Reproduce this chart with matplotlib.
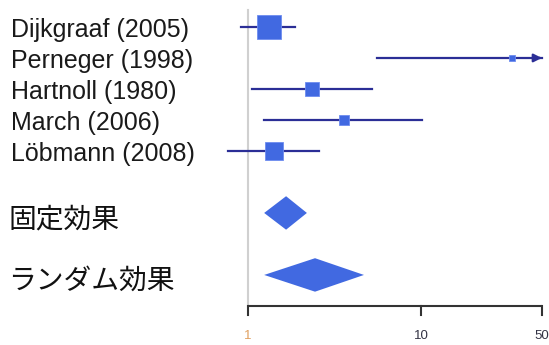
import matplotlib
matplotlib.use("Agg")
import matplotlib.pyplot as plt
import numpy as np

# 研究ごとの推定値と95%信頼区間
studies = ["Dijkgraaf (2005)", "Perneger (1998)", "Hartnoll (1980)",
           "March (2006)", "Löbmann (2008)"]
estimates = [1.32, 33.6, 2.34, 3.59, 1.41]
ci_low = [0.91, 5.57, 1.05, 1.24, 0.77]
ci_high = [1.87, 120.0, 5.21, 10.2, 2.57]
weights = [48.7, 4.1, 14.3, 8.5, 24.4]

# 統合効果 (下限, 推定値, 上限)
pooled_labels = ["固定効果", "ランダム効果"]
pooled_est = [1.66, 2.44]
pooled_low = [1.24, 1.24]
pooled_high = [2.19, 4.68]

ticks = [1, 10, 50]
tick_labels = ["1", "10", "50"]
tick_colors = ["#e0a060", "#333344", "#333344"]

line_col = "#2b2e96"
box_col = "#4169e1"

fig = plt.figure(figsize=(5.49, 3.45), dpi=100)
ax = fig.add_axes([0, 0, 1, 1])
ax.set_xscale("log")
ax.set_xlim(0.03684, 54.95)
ax.set_ylim(10.26, -0.87)
ax.axis("off")

rows = np.arange(len(studies))
pooled_rows = [6, 8]
axis_row = 9

# 基準線 (効果なし = 1)
ax.plot([1, 1], [-0.55, axis_row], color="#d0d0d0", lw=1.5, zorder=1)

for r, est, lo, hi, w in zip(rows, estimates, ci_low, ci_high, weights):
    right = min(hi, ticks[-1])
    ax.plot([lo, right], [r, r], color=line_col, lw=1.6, zorder=2)
    if hi > ticks[-1]:
        ax.annotate("", xy=(right, r), xytext=(right * 0.93, r),
                    arrowprops=dict(arrowstyle="-|>", color=line_col,
                                    lw=1.6, mutation_scale=12))
    ax.plot(est, r, marker="s", ms=2.48 * np.sqrt(w), color=box_col,
            mec="#6d8cf0", mew=0.6, zorder=3)

for r, est, lo, hi in zip(pooled_rows, pooled_est, pooled_low, pooled_high):
    h = 0.54
    ax.fill([lo, est, hi, est], [r, r - h, r, r + h], color=box_col,
            lw=0, zorder=3)

# study labels
for r, name in zip(rows, studies):
    ax.text(0.0425, r + 0.1, name, ha="left", va="center", fontsize=18,
            family="Liberation Sans", color="#1a1a1a")
for r, name in zip(pooled_rows, pooled_labels):
    ax.text(0.0410, r + 0.2, name, ha="left", va="center", fontsize=20,
            family=["Noto Sans CJK JP", "DejaVu Sans"], color="#111111")

# x軸
ax.plot([ticks[0], ticks[-1]], [axis_row, axis_row], color="#333333",
        lw=1.5, solid_capstyle="butt")
for t, lab, c in zip(ticks, tick_labels, tick_colors):
    ax.plot([t, t], [axis_row, axis_row + 0.3], color="#333333", lw=1.5)
    ax.text(t, axis_row + 0.98, lab, ha="center", va="center", fontsize=9.5,
            color=c, family="Liberation Sans")

fig.savefig("out.png", dpi=100)
